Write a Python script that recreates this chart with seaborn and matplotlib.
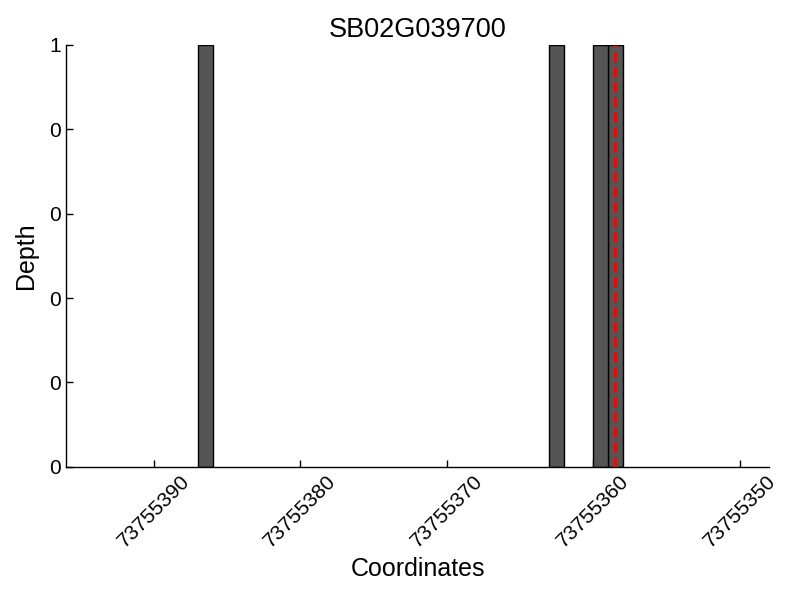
import matplotlib
matplotlib.use("Agg")
import matplotlib.pyplot as plt
import seaborn as sns
import pandas as pd

# ---- data ----
title = "SB02G039700"
bar_centers = [73755386.5, 73755362.5, 73755359.5, 73755358.5]
depth = [1, 1, 1, 1]
marker_pos = 73755358.5
x_ticks = [73755390, 73755380, 73755370, 73755360, 73755350]
x_tick_labels = ["73755390", "73755380", "73755370", "73755360", "73755350"]
y_ticks = [0, 0.2, 0.4, 0.6, 0.8, 1.0]
y_tick_labels = ["0", "0", "0", "0", "0", "1"]
x_limits = (73755396, 73755348)

df = pd.DataFrame({"pos": bar_centers, "depth": depth})

sns.set_style("white")
plt.rcParams["font.family"] = ["Liberation Sans", "DejaVu Sans"]
plt.rcParams["text.color"] = "black"
plt.rcParams["axes.labelcolor"] = "black"
plt.rcParams["xtick.color"] = "black"
plt.rcParams["ytick.color"] = "black"

fig = plt.figure(figsize=(8, 6), dpi=100)
ax = fig.add_axes([0.0825, 0.222, 0.879, 0.703])

sns.barplot(data=df, x="pos", y="depth", native_scale=True, width=1,
            color="#555555", saturation=1, edgecolor="black", linewidth=1,
            errorbar=None, ax=ax)

ax.axvline(marker_pos, color="red", linestyle=(0, (3, 1.5)), linewidth=2.4, zorder=5)

ax.set_xlim(*x_limits)
ax.set_ylim(0, 1)
ax.set_xticks(x_ticks)
ax.set_xticklabels(x_tick_labels, rotation=45, ha="center", fontsize=15)
ax.set_yticks(y_ticks)
ax.set_yticklabels(y_tick_labels, fontsize=15)
ax.tick_params(direction="in", length=5, width=1, color="black",
               labelcolor="black", bottom=True, left=True)

sns.despine(ax=ax)
for s in ("left", "bottom"):
    ax.spines[s].set_color("black")
    ax.spines[s].set_linewidth(1)

ax.set_xlabel("Coordinates", fontsize=18, color="black")
ax.set_ylabel("Depth", fontsize=18, color="black", labelpad=8)
ax.set_title(title, fontsize=19.5, color="black")

fig.savefig("out.png", dpi=100)
